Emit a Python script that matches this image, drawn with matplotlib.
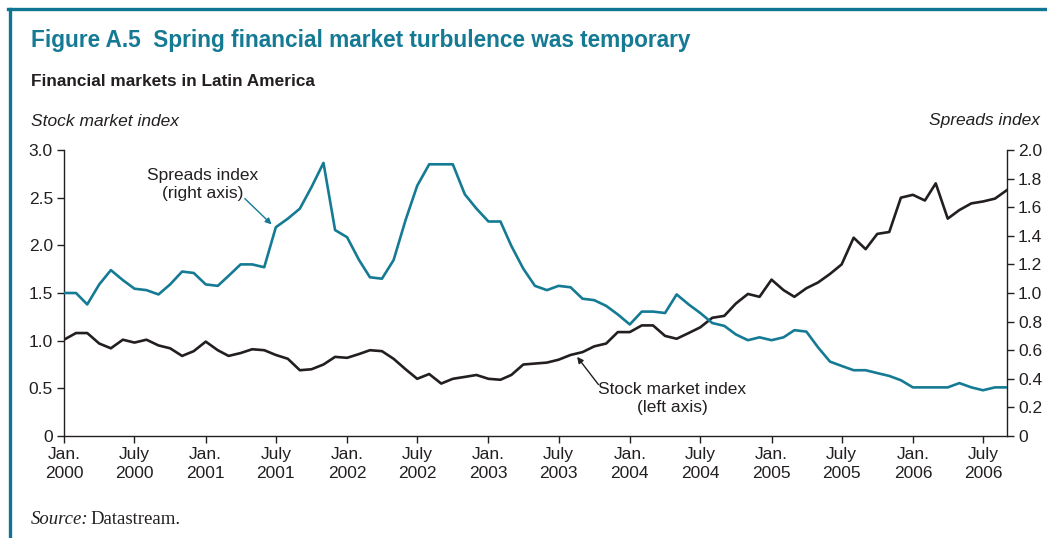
import matplotlib.pyplot as plt
import matplotlib.dates as mdates
from matplotlib.lines import Line2D
import pandas as pd

# monthly data, Jan 2000 - Sep 2006
dates = pd.date_range("2000-01-01", periods=81, freq="MS")

stock = [1.01, 1.08, 1.08, 0.97, 0.92, 1.01, 0.98, 1.01, 0.95, 0.92,
         0.84, 0.89, 0.99, 0.90, 0.84, 0.87, 0.91, 0.90, 0.85, 0.81,
         0.69, 0.70, 0.75, 0.83, 0.82, 0.86, 0.90, 0.89, 0.81, 0.70,
         0.60, 0.65, 0.55, 0.60, 0.62, 0.64, 0.60, 0.59, 0.64, 0.75,
         0.76, 0.77, 0.80, 0.85, 0.88, 0.94, 0.97, 1.09, 1.09, 1.16,
         1.16, 1.05, 1.02, 1.08, 1.14, 1.24, 1.26, 1.39, 1.49, 1.46,
         1.64, 1.53, 1.46, 1.55, 1.61, 1.70, 1.80, 2.08, 1.96, 2.12,
         2.14, 2.50, 2.53, 2.47, 2.65, 2.28, 2.37, 2.44, 2.46, 2.49,
         2.58]

spreads = [1.00, 1.00, 0.92, 1.06, 1.16, 1.09, 1.03, 1.02, 0.99, 1.06,
           1.15, 1.14, 1.06, 1.05, 1.12, 1.20, 1.20, 1.18, 1.46, 1.52,
           1.59, 1.74, 1.91, 1.44, 1.39, 1.23, 1.11, 1.10, 1.23, 1.51,
           1.75, 1.90, 1.90, 1.90, 1.69, 1.59, 1.50, 1.50, 1.33, 1.17,
           1.05, 1.02, 1.05, 1.04, 0.96, 0.95, 0.91, 0.85, 0.78, 0.87,
           0.87, 0.86, 0.99, 0.92, 0.86, 0.79, 0.77, 0.71, 0.67, 0.69,
           0.67, 0.69, 0.74, 0.73, 0.62, 0.52, 0.49, 0.46, 0.46, 0.44,
           0.42, 0.39, 0.34, 0.34, 0.34, 0.34, 0.37, 0.34, 0.32, 0.34,
           0.34]

tick_dates = pd.date_range("2000-01-01", "2006-07-01", freq="6MS")
tick_labels = [("Jan." if d.month == 1 else "July") + "\n" + str(d.year) for d in tick_dates]
left_ticks = [0, 0.5, 1.0, 1.5, 2.0, 2.5, 3.0]
left_labels = ["0", "0.5", "1.0", "1.5", "2.0", "2.5", "3.0"]
right_ticks = [0, 0.2, 0.4, 0.6, 0.8, 1.0, 1.2, 1.4, 1.6, 1.8, 2.0]
right_labels = ["0", "0.2", "0.4", "0.6", "0.8", "1.0", "1.2", "1.4", "1.6", "1.8", "2.0"]

teal = "#157a94"
dark = "#231f20"

plt.rcParams['font.family'] = ['Liberation Sans', 'DejaVu Sans']

fig = plt.figure(figsize=(10.47, 5.38), dpi=100)
ax = fig.add_axes([64/1047, 1 - 436/538, 943/1047, 286/538])
ax2 = ax.twinx()

ax.plot(dates, stock, color=dark, linewidth=1.9, zorder=3)
ax2.plot(dates, spreads, color=teal, linewidth=1.9, zorder=3)

ax.set_xlim(dates[0], dates[-1])
ax.set_ylim(0, 3)
ax2.set_ylim(0, 2)

ax.set_xticks(tick_dates)
ax.set_xticklabels(tick_labels, linespacing=1.3)
ax.set_yticks(left_ticks)
ax.set_yticklabels(left_labels)
ax2.set_yticks(right_ticks)
ax2.set_yticklabels(right_labels)

for a in (ax, ax2):
    a.spines['top'].set_visible(False)
    for s in a.spines.values():
        s.set_color(dark)
        s.set_linewidth(1.0)
    a.tick_params(labelsize=12.5, colors=dark, length=5, width=1.0, pad=3)
ax.spines['right'].set_visible(False)
ax2.spines['left'].set_visible(False)
ax2.spines['bottom'].set_visible(False)

def d(s):
    return mdates.date2num(pd.Timestamp(s))

# annotations
ax.text(d("2000-12-25"), 2.64, "Spreads index\n(right axis)", ha='center', va='center',
        fontsize=12.5, color=dark, linespacing=1.3)
ax.annotate("", xy=(d("2001-06-20"), 2.22), xytext=(d("2001-04-12"), 2.49),
            arrowprops=dict(arrowstyle='-|>', color=teal, lw=1.0, mutation_scale=9,
                            shrinkA=0, shrinkB=0))
ax.text(d("2004-04-20"), 0.395, "Stock market index\n(left axis)", ha='center', va='center',
        fontsize=12.5, color=dark, linespacing=1.3)
ax.annotate("", xy=(d("2003-08-18"), 0.83), xytext=(d("2003-10-12"), 0.54),
            arrowprops=dict(arrowstyle='-|>', color=dark, lw=1.0, mutation_scale=9,
                            shrinkA=0, shrinkB=0))

# titles and labels
fig.text(31/1047, 1 - 40/538, "Figure A.5  Spring financial market turbulence was temporary",
         fontsize=16.3, fontweight='bold', color=teal, va='center', ha='left')
fig.text(31/1047, 1 - 81/538, "Financial markets in Latin America",
         fontsize=12.4, fontweight='bold', color=dark, va='center', ha='left')
fig.text(31/1047, 1 - 121/538, "Stock market index", fontsize=12.5, style='italic',
         color=dark, va='center', ha='left')
fig.text(1040/1047, 1 - 121/538, "Spreads index", fontsize=12.5, style='italic',
         color=dark, va='center', ha='right')
fig.text(31/1047, 1 - 519/538, "Source:", fontsize=13.5, style='italic',
         family='Liberation Serif', color=dark, va='center', ha='left')
fig.text(90/1047, 1 - 519/538, "Datastream.", fontsize=13.5,
         family='Liberation Serif', color=dark, va='center', ha='left')

# frame
fig.add_artist(Line2D([8/1047, 1], [1 - 9/538, 1 - 9/538], color="#0e7592", linewidth=2.4))
fig.add_artist(Line2D([9.5/1047, 9.5/1047], [0, 1 - 9/538], color="#0e7592", linewidth=2.4))

fig.savefig("out.png", dpi=100)
